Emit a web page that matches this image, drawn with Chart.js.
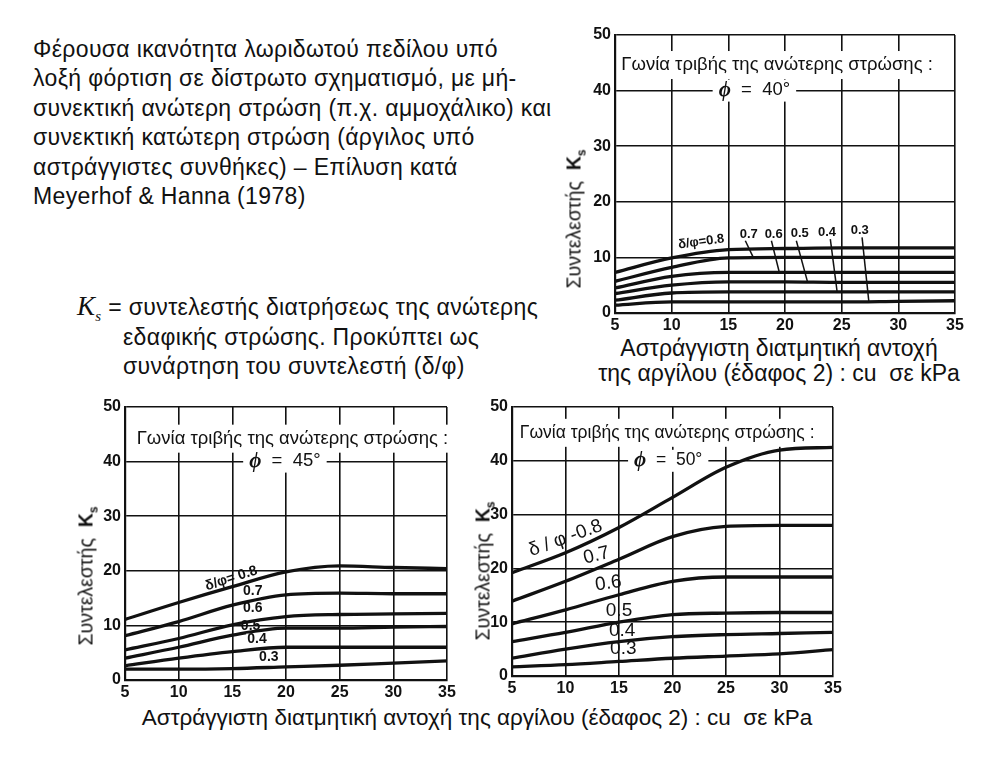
<!DOCTYPE html>
<html>
<head>
<meta charset="utf-8">
<script src="https://cdn.jsdelivr.net/npm/chart.js@4"></script>
<style>
  body { margin: 0; background: #fff; font-family: "Liberation Sans", Arial, sans-serif; color: #111; }
  #page { position: relative; width: 1001px; height: 766px; overflow: hidden; }
  .box { position: absolute; }
  .txt { position: absolute; font-size: 23px; line-height: 29.4px; letter-spacing: 0.35px; white-space: nowrap; }
  .ytitle { position: absolute; font-size: 19.5px; white-space: nowrap; transform: translate(-50%, -50%) rotate(-90deg); }
  .ytitle b { font-weight: bold; }
  .center { text-align: center; transform: translateX(-50%); }
  .ks { font-family: "Liberation Serif", serif; font-style: italic; font-size: 27px; }
  sub { line-height: 0; }
</style>
</head>
<body>
<div id="page">
  <div class="txt" style="left:33px; top:35px;">
    Φέρουσα ικανότητα λωριδωτού πεδίλου υπό<br>
    λοξή φόρτιση σε δίστρωτο σχηματισμό, με μή-<br>
    συνεκτική ανώτερη στρώση (π.χ. αμμοχάλικο) και<br>
    συνεκτική κατώτερη στρώση (άργιλος υπό<br>
    αστράγγιστες συνθήκες) – Επίλυση κατά<br>
    Meyerhof &amp; Hanna (1978)
  </div>

  <div class="txt" style="left:77px; top:293px; line-height:29.5px;">
    <span class="ks" style="line-height:0">K<sub style="font-size:15px">s</sub></span> = συντελεστής διατρήσεως της ανώτερης<br>
    <span style="padding-left:46px">εδαφικής στρώσης. Προκύπτει ως</span><br>
    <span style="padding-left:46px">συνάρτηση του συντελεστή (δ/φ)</span>
  </div>

  <div class="box" style="left:575px; top:20px; width:400px; height:315px;"><canvas id="c40"></canvas></div>
  <div class="box" style="left:85px; top:392px; width:382px; height:310px;"><canvas id="c45"></canvas></div>
  <div class="box" style="left:472px; top:392px; width:381px; height:306px;"><canvas id="c50"></canvas></div>

  <div class="ytitle" style="left:574px; top:219px;">Συντελεστής&nbsp; <b>K<sub style="font-size:12px">s</sub></b></div>
  <div class="ytitle" style="left:86px; top:576px;">Συντελεστής&nbsp; <b>K<sub style="font-size:12px">s</sub></b></div>
  <div class="ytitle" style="left:483px; top:571px;">Συντελεστής&nbsp; <b>K<sub style="font-size:12px">s</sub></b></div>

  <div class="txt center" style="left:779px; top:336px; line-height:25px; letter-spacing:0;">
    Αστράγγιστη διατμητική αντοχή<br>της αργίλου (έδαφος 2) : cu &nbsp;σε kPa
  </div>
  <div class="txt center" style="left:477px; top:703px; font-size:22.5px; letter-spacing:0;">
    Αστράγγιστη διατμητική αντοχή της αργίλου (έδαφος 2) : cu &nbsp;σε kPa
  </div>
</div>

<script>
// undrained shear strength of the clay, cu (kPa)
const cu = [5, 10, 15, 20, 25, 30, 35];
const xTicks = [5, 10, 15, 20, 25, 30, 35];
const yTicks = [0, 10, 20, 30, 40, 50];
const ratios = ['0.8', '0.7', '0.6', '0.5', '0.4', '0.3'];

// Ks curves, phi = 40
const phi40_r08 = [7.3, 9.9, 11.4, 11.6, 11.7, 11.7, 11.7];
const phi40_r07 = [5.7, 8.2, 9.9, 10.0, 10.0, 10.0, 10.0];
const phi40_r06 = [4.5, 6.6, 7.3, 7.3, 7.3, 7.3, 7.3];
const phi40_r05 = [3.5, 5.0, 5.6, 5.6, 5.5, 5.5, 5.5];
const phi40_r04 = [2.3, 3.6, 3.8, 3.8, 3.8, 3.8, 3.8];
const phi40_r03 = [1.4, 2.0, 2.0, 2.0, 2.0, 2.1, 2.2];

// Ks curves, phi = 45
const phi45_r08 = [11.1, 14.2, 17.1, 19.8, 20.9, 20.6, 20.4];
const phi45_r07 = [8.1, 10.7, 13.7, 15.6, 15.9, 15.8, 15.8];
const phi45_r06 = [5.5, 7.6, 10.1, 11.6, 12.0, 12.1, 12.2];
const phi45_r05 = [4.0, 6.0, 8.2, 9.5, 9.5, 9.7, 9.8];
const phi45_r04 = [2.6, 4.0, 5.2, 6.0, 6.0, 6.0, 6.0];
const phi45_r03 = [2.0, 2.0, 2.1, 2.4, 2.7, 3.1, 3.5];

// Ks curves, phi = 50
const phi50_r08 = [19.2, 22.9, 27.6, 33.2, 38.8, 42.0, 42.5];
const phi50_r07 = [13.9, 17.6, 21.7, 25.9, 27.8, 28.0, 28.0];
const phi50_r06 = [9.7, 12.3, 15.1, 17.6, 18.4, 18.4, 18.4];
const phi50_r05 = [6.4, 8.1, 10.0, 11.4, 11.7, 11.8, 11.8];
const phi50_r04 = [3.3, 5.0, 6.4, 7.3, 7.7, 7.9, 8.1];
const phi50_r03 = [1.7, 2.1, 2.7, 3.3, 3.7, 4.1, 4.9];

const INK = '#111';

// text inside the plot: header, phi value, curve labels, leader lines
const notesPlugin = {
  id: 'notes',
  beforeDatasetsDraw(chart, args, opts) {
    const ctx = chart.ctx, xs = chart.scales.x, ys = chart.scales.y;
    ctx.save();
    // header text on a white box
    ctx.font = opts.headFont;
    const hx = xs.getPixelForValue(opts.head.x), hy = ys.getPixelForValue(opts.head.y);
    const hw = ctx.measureText(opts.headText).width;
    ctx.fillStyle = '#fff';
    ctx.fillRect(hx - hw / 2 - 4, hy - 14, hw + 8, 28);
    ctx.fillStyle = INK;
    ctx.textAlign = 'center';
    ctx.textBaseline = 'middle';
    ctx.fillText(opts.headText, hx, hy);
    // phi value, split so the symbol can be bold italic
    const px = xs.getPixelForValue(opts.phi.x), py = ys.getPixelForValue(opts.phi.y);
    ctx.font = opts.phiFont;
    const w1 = ctx.measureText('ϕ').width;
    ctx.font = opts.headFont;
    const rest = '  =  ' + opts.phiText;
    const w2 = ctx.measureText(rest).width;
    const tw = w1 + w2;
    ctx.fillStyle = '#fff';
    ctx.fillRect(px - tw / 2 - 6, py - 11, tw + 12, 22);
    ctx.fillStyle = INK;
    ctx.textAlign = 'left';
    ctx.font = opts.phiFont;
    ctx.fillText('ϕ', px - tw / 2, py);
    ctx.font = opts.headFont;
    ctx.fillText(rest, px - tw / 2 + w1, py - 1);
    ctx.restore();
  },
  afterDatasetsDraw(chart, args, opts) {
    const ctx = chart.ctx, xs = chart.scales.x, ys = chart.scales.y;
    ctx.save();
    ctx.fillStyle = INK;
    ctx.strokeStyle = INK;
    ctx.lineWidth = 1.5;
    (opts.leaders || []).forEach(l => {
      ctx.beginPath();
      ctx.moveTo(xs.getPixelForValue(l[0]), ys.getPixelForValue(l[1]));
      ctx.lineTo(xs.getPixelForValue(l[2]), ys.getPixelForValue(l[3]));
      ctx.stroke();
    });
    ctx.font = opts.labelFont;
    ctx.textAlign = 'center';
    ctx.textBaseline = 'middle';
    opts.labels.forEach(l => {
      const x = xs.getPixelForValue(l.x), y = ys.getPixelForValue(l.y);
      ctx.save();
      ctx.translate(x, y);
      ctx.rotate((l.rot || 0) * Math.PI / 180);
      if (l.clear) {
        const w = ctx.measureText(l.text).width;
        ctx.fillStyle = '#fff';
        ctx.fillRect(-w / 2 - 1, -6, w + 2, 12);
        ctx.fillStyle = INK;
      }
      ctx.fillText(l.text, 0, 0);
      ctx.restore();
    });
    ctx.restore();
  }
};

function makeChart(id, series, notes) {
  const datasets = series.map((vals, i) => ({
    label: 'δ/φ = ' + ratios[i],
    data: vals.map((v, j) => ({ x: cu[j], y: v })),
    borderColor: INK,
    borderWidth: 3.3,
    pointRadius: 0,
    fill: false,
    cubicInterpolationMode: 'monotone'
  }));
  return new Chart(document.getElementById(id), {
    type: 'line',
    data: { datasets },
    options: {
      responsive: true,
      maintainAspectRatio: false,
      animation: false,
      layout: { padding: { top: 15, right: 20, left: 0, bottom: 0 } },
      plugins: { legend: { display: false }, tooltip: { enabled: false }, notes },
      scales: {
        x: {
          type: 'linear',
          min: 5, max: 35,
          afterBuildTicks: s => { s.ticks = xTicks.map(v => ({ value: v })); },
          afterFit: s => { s.height = 22; },
          grid: { color: INK, lineWidth: 1.6, drawTicks: false },
          border: { color: INK, width: 2.2 },
          ticks: { color: INK, padding: 3, font: { family: 'Liberation Sans', size: 16, weight: 'bold' } }
        },
        y: {
          min: 0, max: 50,
          afterBuildTicks: s => { s.ticks = yTicks.map(v => ({ value: v })); },
          afterFit: s => { s.width = 40; },
          grid: { color: INK, lineWidth: 1.6, drawTicks: false },
          border: { color: INK, width: 2.2 },
          ticks: { color: INK, padding: 4, font: { family: 'Liberation Sans', size: 16, weight: 'bold' } }
        }
      }
    },
    plugins: [notesPlugin]
  });
}

const HEAD = 'Γωνία τριβής της ανώτερης στρώσης :';

makeChart('c40',
  [phi40_r08, phi40_r07, phi40_r06, phi40_r05, phi40_r04, phi40_r03],
  {
    headText: HEAD, head: { x: 19.3, y: 44.6 }, headFont: '18.5px "Liberation Sans"',
    phiText: '40°', phi: { x: 17.3, y: 40 }, phiFont: 'bold italic 21px "Liberation Serif"',
    labelFont: 'bold 13px "Liberation Sans"',
    labels: [
      { text: 'δ/φ=0.8', x: 12.6, y: 12.8, rot: -8 },
      { text: '0.7', x: 16.8, y: 14.2 },
      { text: '0.6', x: 19.0, y: 14.2 },
      { text: '0.5', x: 21.3, y: 14.3 },
      { text: '0.4', x: 23.7, y: 14.5 },
      { text: '0.3', x: 26.6, y: 14.9 }
    ],
    leaders: [
      [16.5, 13.0, 17.2, 10.0], [18.8, 13.0, 19.5, 7.3], [21.0, 13.0, 22.0, 5.5],
      [24.0, 13.3, 24.6, 3.8], [26.8, 13.6, 27.4, 2.0]
    ]
  });

makeChart('c45',
  [phi45_r08, phi45_r07, phi45_r06, phi45_r05, phi45_r04, phi45_r03],
  {
    headText: HEAD, head: { x: 20.6, y: 44.2 }, headFont: '18.5px "Liberation Sans"',
    phiText: '45°', phi: { x: 19.9, y: 40 }, phiFont: 'bold italic 21px "Liberation Serif"',
    labelFont: 'bold 14px "Liberation Sans"',
    labels: [
      { text: 'δ/φ= 0.8', x: 14.9, y: 18.6, rot: -18 },
      { text: '0.7', x: 16.9, y: 16.3 },
      { text: '0.6', x: 16.9, y: 13.2 },
      { text: '0.5', x: 16.7, y: 9.9 },
      { text: '0.4', x: 17.3, y: 7.4, clear: true },
      { text: '0.3', x: 18.4, y: 4.2 }
    ]
  });

makeChart('c50',
  [phi50_r08, phi50_r07, phi50_r06, phi50_r05, phi50_r04, phi50_r03],
  {
    headText: HEAD, head: { x: 19.5, y: 45.2 }, headFont: '17.5px "Liberation Sans"',
    phiText: '50°', phi: { x: 19.6, y: 40 }, phiFont: 'bold italic 21px "Liberation Serif"',
    labelFont: '19px "Liberation Sans"',
    labels: [
      { text: 'δ / φ -0.8', x: 10.0, y: 25.6, rot: -20 },
      { text: '0.7', x: 12.9, y: 22.4, rot: -14 },
      { text: '0.6', x: 14.0, y: 17.2, rot: -8 },
      { text: '0.5', x: 15.0, y: 12.2 },
      { text: '0.4', x: 15.3, y: 8.4 },
      { text: '0.3', x: 15.4, y: 5.0 }
    ]
  });
</script>
</body>
</html>
